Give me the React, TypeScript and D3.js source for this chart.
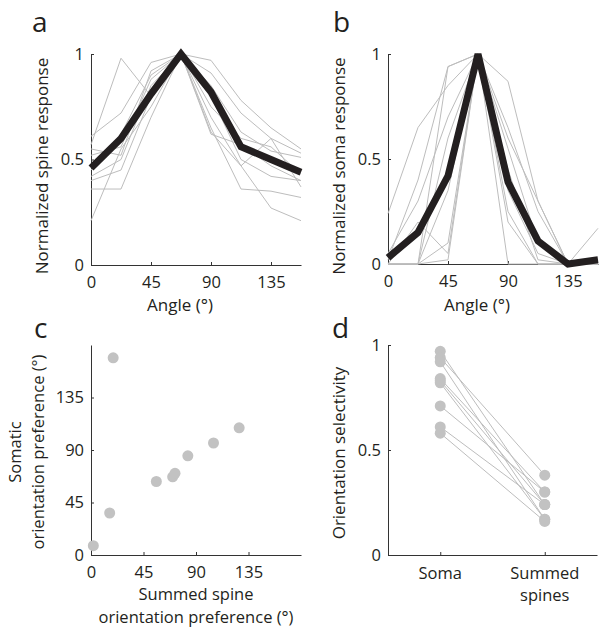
import { useEffect, useRef } from "react";
import * as d3 from "d3";

// angles of the grating (deg)
const angles = [0, 22.5, 45, 67.5, 90, 112.5, 135, 157.5];
const angleTicks = [0, 45, 90, 135];
const respTicks = [0, 0.5, 1];

// panel a: normalized spine responses
const spineMean = [0.46, 0.6, 0.81, 1, 0.82, 0.56, 0.5, 0.44];
const spineCells = [
  [0.57, 0.98, 0.8, 1, 0.62, 0.57, 0.47, 0.4],
  [0.61, 0.72, 0.96, 1, 0.97, 0.78, 0.65, 0.55],
  [0.55, 0.52, 0.92, 1, 0.91, 0.72, 0.6, 0.53],
  [0.52, 0.56, 0.88, 1, 0.85, 0.63, 0.54, 0.51],
  [0.42, 0.5, 0.85, 1, 0.75, 0.6, 0.56, 0.43],
  [0.4, 0.45, 0.8, 1, 0.63, 0.47, 0.6, 0.37],
  [0.36, 0.36, 0.7, 1, 0.65, 0.36, 0.35, 0.32],
  [0.21, 0.55, 0.75, 1, 0.7, 0.47, 0.27, 0.21],
  [0.45, 0.62, 0.9, 1, 0.8, 0.5, 0.42, 0.4],
];

// panel b: normalized soma responses
const somaMean = [0.03, 0.15, 0.42, 1, 0.39, 0.11, 0, 0.02];
const somaCells = [
  [0.24, 0.65, 0.85, 1, 0.87, 0.3, 0, 0.17],
  [0.02, 0.4, 0.94, 1, 0.6, 0.3, 0, 0],
  [0, 0, 0.94, 1, 0.55, 0.1, 0, 0],
  [0, 0.2, 0.05, 1, 0.25, 0, 0, 0],
  [0, 0, 0.1, 1, 0.2, 0, 0, 0],
  [0, 0, 0.02, 1, 0, 0, 0, 0],
  [0, 0, 0.6, 1, 0.35, 0.05, 0, 0],
  [0.05, 0.3, 0.7, 1, 0.65, 0.25, 0, 0],
  [0, 0, 0.35, 1, 0.45, 0.02, 0, 0],
];

// panel c: orientation preference (deg)
const summedSpinePref = [2, 16, 19, 56, 70, 72, 83, 105, 127];
const somaPref = [8, 36, 169, 63, 67, 70, 85, 96, 109];

// panel d: orientation selectivity
const osiGroups = ["Soma", "Summed spines"];
const somaOSI = [0.97, 0.94, 0.92, 0.84, 0.82, 0.83, 0.71, 0.61, 0.58];
const summedOSI = [0.24, 0.38, 0.17, 0.3, 0.17, 0.24, 0.3, 0.24, 0.16];

const FONT = "'Open Sans', sans-serif";
const GRAY = "#bdbdbd";
const DOT = "#c2c2c2";
const AXIS = "#333";

const App = () => {
  const svgRef = useRef<SVGSVGElement>(null);

  useEffect(() => {
    const svg = d3.select(svgRef.current);
    svg.selectAll("*").remove();

    const styleAxis = (g: any) => {
      g.select(".domain").attr("stroke", AXIS).attr("stroke-width", 1);
      g.selectAll(".tick line").attr("stroke", AXIS);
      g.selectAll(".tick text")
        .attr("fill", "#231f20")
        .attr("font-family", FONT)
        .attr("font-size", 16.5);
    };

    const drawAxes = (
      x: any,
      y: any,
      xTicks: number[] | null,
      yTicks: number[],
      yFmt: (d: any) => string
    ) => {
      const [x0] = x.range();
      const [y0] = y.range();
      if (xTicks) {
        svg
          .append("g")
          .attr("transform", `translate(0,${y0})`)
          .call(
            d3.axisBottom(x).tickValues(xTicks).tickSizeInner(-3).tickSizeOuter(0).tickPadding(11).tickFormat((d: any) => String(d))
          )
          .call(styleAxis);
      }
      svg
        .append("g")
        .attr("transform", `translate(${x0},0)`)
        .call(
          d3.axisLeft(y).tickValues(yTicks).tickSizeInner(-3).tickSizeOuter(0).tickPadding(7).tickFormat(yFmt)
        )
        .call(styleAxis);
    };

    const text = (
      str: string,
      x: number,
      y: number,
      size = 17,
      rotate = false,
      anchor = "middle"
    ) =>
      svg
        .append("text")
        .attr("transform", rotate ? `translate(${x},${y}) rotate(-90)` : `translate(${x},${y})`)
        .attr("text-anchor", anchor)
        .attr("font-family", FONT)
        .attr("font-size", size)
        .attr("fill", "#231f20")
        .text(str);

    const respFmt = (d: any) => (d === 0.5 ? "0.5" : String(d));

    // ---- panels a and b: tuning curves
    const tuning = (left: number, right: number, top: number, bottom: number, cells: number[][], mean: number[]) => {
      const x = d3.scaleLinear().domain([0, 157.5]).range([left, right]);
      const y = d3.scaleLinear().domain([0, 1]).range([bottom, top]);
      const line = d3
        .line<number>()
        .x((_, i) => x(angles[i]))
        .y((d) => y(d));
      drawAxes(x, y, angleTicks, respTicks, respFmt);
      svg
        .append("g")
        .selectAll("path")
        .data(cells)
        .enter()
        .append("path")
        .attr("d", line)
        .attr("fill", "none")
        .attr("stroke", GRAY)
        .attr("stroke-width", 1);
      svg
        .append("path")
        .datum(mean)
        .attr("d", line)
        .attr("fill", "none")
        .attr("stroke", "#231f20")
        .attr("stroke-width", 7)
        .attr("stroke-linejoin", "miter");
    };

    tuning(91, 301, 54, 265, spineCells, spineMean);
    text("Normalized spine response", 48, 166, 17, true);
    text("Angle (°)", 180, 311);
    text("a", 32, 32, 28, false, "start");

    tuning(388, 598, 54, 264, somaCells, somaMean);
    text("Normalized soma response", 345, 166, 17, true);
    text("Angle (°)", 477, 311);
    text("b", 333, 32, 28, false, "start");

    // ---- panel c: preference scatter
    {
      const x = d3.scaleLinear().domain([0, 180]).range([91, 301]);
      const y = d3.scaleLinear().domain([0, 180]).range([555, 345]);
      drawAxes(x, y, angleTicks, angleTicks, (d: any) => String(d));
      svg
        .append("g")
        .selectAll("circle")
        .data(summedSpinePref)
        .enter()
        .append("circle")
        .attr("cx", (d) => x(d))
        .attr("cy", (_, i) => y(somaPref[i]))
        .attr("r", 5.5)
        .attr("fill", DOT);
      text("Somatic", 21, 452, 16.5, true);
      text("orientation preference (°)", 44, 452, 16.5, true);
      text("Summed spine", 196, 600, 16.5);
      text("orientation preference (°)", 196, 623, 16.5);
      text("c", 34, 338, 28, false, "start");
    }

    // ---- panel d: selectivity pairs
    {
      const x = d3.scaleLinear().domain([0.5, 2.5]).range([388, 597]);
      const y = d3.scaleLinear().domain([0, 1]).range([555, 345]);
      drawAxes(x, y, null, respTicks, respFmt);
      svg
        .append("g")
        .attr("transform", "translate(0,555)")
        .call(d3.axisBottom(x).tickValues([1, 2]).tickSizeInner(-3).tickSizeOuter(0).tickFormat(() => ""))
        .call(styleAxis);
      svg
        .append("g")
        .selectAll("line")
        .data(somaOSI)
        .enter()
        .append("line")
        .attr("x1", x(1))
        .attr("x2", x(2))
        .attr("y1", (d) => y(d))
        .attr("y2", (_, i) => y(summedOSI[i]))
        .attr("stroke", GRAY)
        .attr("stroke-width", 1);
      [somaOSI, summedOSI].forEach((vals, k) => {
        svg
          .append("g")
          .selectAll("circle")
          .data(vals)
          .enter()
          .append("circle")
          .attr("cx", x(k + 1))
          .attr("cy", (d) => y(d))
          .attr("r", 5.5)
          .attr("fill", DOT);
      });
      text(osiGroups[0], x(1), 579, 16.5);
      text("Summed", x(2), 579, 16.5);
      text(osiGroups[1].split(" ")[1], x(2), 601, 16.5);
      text("Orientation selectivity", 345, 453, 17, true);
      text("d", 332, 338, 28, false, "start");
    }
  }, []);

  return (
    <svg
      ref={svgRef}
      width={607}
      height={639}
      style={{ position: "absolute", left: 0, top: 0, background: "#fff" }}
    ></svg>
  );
};

export default App;
